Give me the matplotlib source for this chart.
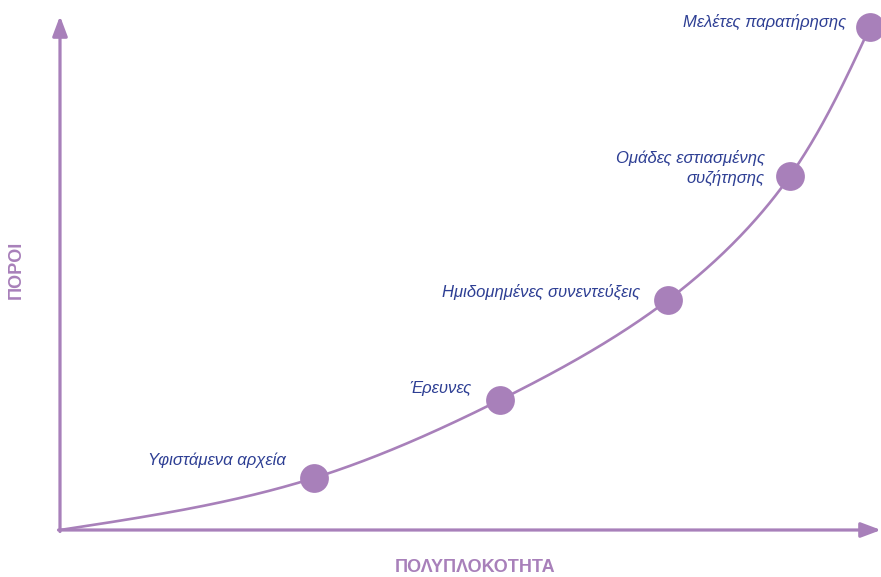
import numpy as np
import matplotlib
matplotlib.use("Agg")
import matplotlib.pyplot as plt
from matplotlib import font_manager as fm

# ---- data (complexity vs resources, arbitrary units) ----
methods = ["Υφιστάμενα αρχεία", "Έρευνες", "Ημιδομημένες συνεντεύξεις",
           "Ομάδες εστιασμένης\nσυζήτησης", "Μελέτες παρατήρησης"]
complexity = [254, 440, 608, 730, 810]
resources = [52, 130, 230, 354, 503]
x_label = "ΠΟΛΥΠΛΟΚΟΤΗΤΑ"
y_label = "ΠΟΡΟΙ"

PURPLE = "#A880BA"
BLUE = "#2E3F94"

names = {f.name for f in fm.fontManager.ttflist}
fam = ["Liberation Sans Narrow", "Liberation Sans", "DejaVu Sans"]
fam = [f for f in fam if f in names] + ["DejaVu Sans"]

fig = plt.figure(figsize=(8.81, 5.77), dpi=100)
ax = fig.add_axes([0, 0, 1, 1])
ax.set_xlim(-60, 821)
ax.set_ylim(-47, 530)
ax.axis("off")

# axes arrows
ax.annotate("", xy=(0, 514), xytext=(0, -1.5),
            arrowprops=dict(arrowstyle="-|>,head_length=1.2,head_width=0.45",
                            color=PURPLE, lw=2.3, shrinkA=0, shrinkB=0))
ax.annotate("", xy=(821, 0), xytext=(-1.5, 0),
            arrowprops=dict(arrowstyle="-|>,head_length=1.2,head_width=0.45",
                            color=PURPLE, lw=2.3, shrinkA=0, shrinkB=0))


def natural_spline(t, v, tt):
    n = len(t) - 1
    h = np.diff(t)
    A = np.zeros((n + 1, n + 1))
    r = np.zeros(n + 1)
    A[0, 0] = A[n, n] = 1
    for i in range(1, n):
        A[i, i - 1] = h[i - 1]
        A[i, i] = 2 * (h[i - 1] + h[i])
        A[i, i + 1] = h[i]
        r[i] = 3 * ((v[i + 1] - v[i]) / h[i] - (v[i] - v[i - 1]) / h[i - 1])
    c = np.linalg.solve(A, r)
    out = np.empty_like(tt)
    for k, x in enumerate(tt):
        i = min(np.searchsorted(t, x, side="right") - 1, n - 1)
        d = x - t[i]
        b = (v[i + 1] - v[i]) / h[i] - h[i] * (2 * c[i] + c[i + 1]) / 3
        dd = (c[i + 1] - c[i]) / (3 * h[i])
        out[k] = v[i] + b * d + c[i] * d ** 2 + dd * d ** 3
    return out


px = np.array([0.0] + complexity)
py = np.array([0.0] + resources)
s = np.concatenate([[0], np.cumsum(np.hypot(np.diff(px), np.diff(py)))])
ss = np.linspace(0, s[-1], 600)
cx = natural_spline(s, px, ss)
cy = natural_spline(s, py, ss)
ax.plot(cx, cy, color=PURPLE, lw=1.9, solid_capstyle="round")

ax.scatter(complexity, resources, s=430, color=PURPLE, zorder=3, linewidths=0)

# labels
offsets = [(-28, 18), (-28, 12), (-28, 8), (-25, 8), (-24, 5)]
for (x, y), lab, (dx, dy) in zip(zip(complexity, resources), methods, offsets):
    ax.text(x + dx, y + dy, lab, ha="right", va="center", color=BLUE,
            fontsize=12, style="italic", family=fam, linespacing=1.25)

ax.text(415, -37, x_label, ha="center", va="center", color=PURPLE,
        fontsize=13, fontweight="bold", family=fam)
ax.text(-44, 260, y_label, ha="center", va="center", color=PURPLE,
        fontsize=13, fontweight="bold", family=fam, rotation=90)

fig.savefig("out.png", dpi=100)
